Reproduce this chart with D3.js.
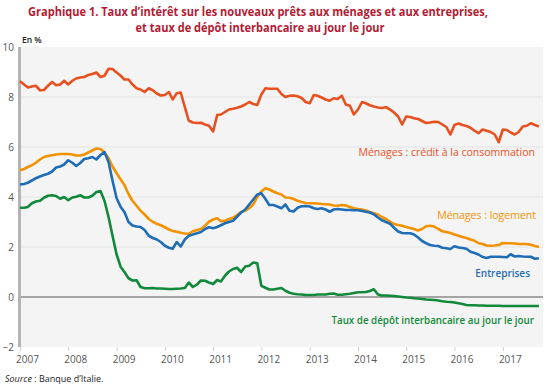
<!DOCTYPE html>
<html>
<head>
<meta charset="utf-8">
<script src="https://cdn.jsdelivr.net/npm/d3@7"></script>
<style>
  body { margin: 0; background: #fff; }
  text { font-family: "Open Sans", sans-serif; }
</style>
</head>
<body>
<svg id="chart" width="550" height="387"></svg>
<script>
// mois : janvier 2007 -> octobre 2017
var months = d3.timeMonth.range(new Date(2007, 0, 1), new Date(2017, 10, 1));

var consommation = [
  8.63, 8.50, 8.38, 8.42, 8.45, 8.27, 8.28, 8.45, 8.60, 8.47, 8.50, 8.65,
  8.50, 8.65, 8.74, 8.78, 8.80, 8.88, 8.92, 8.98, 8.80, 8.85, 9.13, 9.12,
  8.98, 8.85, 8.70, 8.70, 8.50, 8.35, 8.30, 8.20, 8.35, 8.27, 8.14, 8.06,
  8.08, 8.20, 7.90, 8.15, 8.18, 7.60, 7.05, 6.98, 6.96, 6.97, 6.90, 6.85,
  6.62, 7.28, 7.30, 7.40, 7.50, 7.53, 7.57, 7.62, 7.70, 7.80, 7.72, 7.68,
  8.10, 8.35, 8.33, 8.33, 8.33, 8.12, 8.00, 8.05, 8.06, 8.03, 7.96, 7.80,
  7.75, 8.08, 8.05, 7.98, 7.90, 7.85, 7.95, 7.92, 8.05, 7.70, 7.65, 7.30,
  7.50, 7.80, 7.75, 7.67, 7.62, 7.58, 7.56, 7.59, 7.50, 7.38, 7.22, 6.90,
  7.22, 7.20, 7.15, 7.12, 7.04, 6.96, 6.98, 7.01, 7.00, 6.90, 6.80, 6.50,
  6.88, 6.94, 6.88, 6.84, 6.77, 6.65, 6.55, 6.70, 6.65, 6.60, 6.50, 6.19,
  6.70, 6.68, 6.58, 6.50, 6.60, 6.82, 6.85, 6.95, 6.88, 6.82
];

var logement = [
  5.07, 5.12, 5.20, 5.27, 5.37, 5.50, 5.60, 5.64, 5.67, 5.70, 5.72, 5.72,
  5.72, 5.70, 5.66, 5.66, 5.70, 5.78, 5.86, 5.94, 5.92, 5.78, 5.55, 5.22,
  4.95, 4.70, 4.48, 4.12, 3.85, 3.65, 3.45, 3.30, 3.12, 3.01, 2.93, 2.87,
  2.79, 2.70, 2.64, 2.61, 2.57, 2.54, 2.53, 2.63, 2.68, 2.72, 2.85, 3.01,
  3.10, 3.15, 3.03, 3.05, 3.12, 3.17, 3.28, 3.40, 3.45, 3.55, 3.70, 4.00,
  4.22, 4.35, 4.30, 4.22, 4.15, 4.10, 3.98, 3.97, 3.92, 3.85, 3.80, 3.76,
  3.75, 3.75, 3.74, 3.72, 3.71, 3.70, 3.66, 3.65, 3.68, 3.66, 3.60, 3.55,
  3.52, 3.50, 3.46, 3.40, 3.35, 3.30, 3.20, 3.12, 3.02, 2.92, 2.88, 2.85,
  2.80, 2.76, 2.72, 2.66, 2.72, 2.83, 2.85, 2.82, 2.72, 2.63, 2.60, 2.56,
  2.50, 2.45, 2.40, 2.36, 2.30, 2.25, 2.15, 2.12, 2.06, 2.05, 2.06, 2.08,
  2.16, 2.15, 2.15, 2.14, 2.12, 2.12, 2.12, 2.09, 2.04, 2.00
];

var entreprises = [
  4.50, 4.52, 4.57, 4.66, 4.75, 4.82, 4.88, 4.93, 5.02, 5.18, 5.22, 5.30,
  5.47, 5.37, 5.24, 5.36, 5.52, 5.55, 5.60, 5.50, 5.68, 5.80, 5.40, 4.65,
  3.95, 3.60, 3.40, 3.00, 2.86, 2.82, 2.80, 2.68, 2.45, 2.36, 2.30, 2.20,
  2.05, 1.97, 1.93, 2.20, 2.02, 2.30, 2.45, 2.50, 2.55, 2.60, 2.72, 2.79,
  2.75, 2.80, 2.87, 2.95, 3.00, 3.05, 3.21, 3.38, 3.50, 3.70, 3.90, 4.10,
  4.15, 3.92, 3.68, 3.68, 3.62, 3.55, 3.70, 3.45, 3.42, 3.57, 3.63, 3.64,
  3.62, 3.55, 3.52, 3.55, 3.50, 3.41, 3.50, 3.52, 3.50, 3.48, 3.48, 3.47,
  3.47, 3.44, 3.41, 3.38, 3.31, 3.18, 3.07, 3.00, 2.93, 2.77, 2.62, 2.56,
  2.55, 2.55, 2.50, 2.38, 2.24, 2.15, 2.08, 2.05, 2.04, 1.97, 1.95, 1.92,
  2.03, 1.98, 1.96, 1.93, 1.81, 1.76, 1.70, 1.60, 1.56, 1.61, 1.61, 1.61,
  1.60, 1.59, 1.71, 1.62, 1.64, 1.62, 1.61, 1.61, 1.53, 1.55
];

var interbancaire = [
  3.57, 3.57, 3.60, 3.75, 3.82, 3.85, 3.97, 4.05, 4.07, 4.04, 3.93, 4.00,
  3.87, 3.98, 4.01, 4.07, 3.98, 3.98, 4.05, 4.20, 4.24, 3.85, 3.20, 2.45,
  1.70, 1.20, 1.00, 0.75, 0.66, 0.67, 0.40, 0.35, 0.35, 0.36, 0.34, 0.34,
  0.33, 0.32, 0.32, 0.33, 0.34, 0.36, 0.58, 0.40, 0.50, 0.66, 0.65, 0.58,
  0.52, 0.68, 0.62, 0.85, 1.02, 1.12, 1.17, 1.00, 1.22, 1.25, 1.38, 1.35,
  0.45, 0.37, 0.30, 0.30, 0.33, 0.36, 0.25, 0.17, 0.13, 0.11, 0.10, 0.08,
  0.08, 0.08, 0.10, 0.10, 0.10, 0.13, 0.14, 0.09, 0.09, 0.11, 0.13, 0.16,
  0.19, 0.19, 0.20, 0.24, 0.31, 0.10, 0.06, 0.06, 0.05, 0.04, 0.02, 0.00,
  -0.02, -0.03, -0.05, -0.06, -0.08, -0.10, -0.11, -0.12, -0.14, -0.17, -0.19, -0.20,
  -0.22, -0.25, -0.28, -0.32, -0.33, -0.33, -0.34, -0.34, -0.35, -0.35, -0.35, -0.35,
  -0.36, -0.36, -0.36, -0.36, -0.36, -0.36, -0.36, -0.36, -0.36, -0.36
];

var yTicks = [-2, 0, 2, 4, 6, 8, 10];
var years = d3.range(2007, 2018);

var series = [
  {name: "Ménages : crédit à la consommation", values: consommation, color: "#e8501f", lx: 535, ly: 156, weight: "normal", size: 10.5},
  {name: "Ménages : logement", values: logement, color: "#f39200", lx: 536, ly: 219, weight: "normal", size: 10.5},
  {name: "Entreprises", values: entreprises, color: "#1f6db4", lx: 530, ly: 277, weight: 600, size: 10},
  {name: "Taux de dépôt interbancaire au jour le jour", values: interbancaire, color: "#12893a", lx: 534, ly: 324, weight: 600, size: 9.8}
];

var margin = {top: 47, right: 7, bottom: 40, left: 20},
    width = 550 - margin.left - margin.right,
    height = 387 - margin.top - margin.bottom;

var svg = d3.select("#chart");

// titre
var title = svg.append("g")
    .attr("fill", "#b31b34")
    .attr("font-weight", "bold")
    .attr("font-size", 12.5)
    .attr("text-anchor", "middle");
title.append("text").attr("x", 258).attr("y", 16)
    .attr("textLength", 460).attr("lengthAdjust", "spacingAndGlyphs")
    .text("Graphique 1. Taux d’intérêt sur les nouveaux prêts aux ménages et aux entreprises,");
title.append("text").attr("x", 260).attr("y", 32)
    .attr("textLength", 249).attr("lengthAdjust", "spacingAndGlyphs")
    .text("et taux de dépôt interbancaire au jour le jour");

var g = svg.append("g")
    .attr("transform", "translate(" + margin.left + "," + margin.top + ")");

var x = d3.scaleTime()
    .domain([new Date(2007, 0, 1), new Date(2017, 10, 1)])
    .range([0, width]);

var y = d3.scaleLinear()
    .domain([-2, 10])
    .range([height, 0]);

g.append("rect")
    .attr("width", width)
    .attr("height", height)
    .attr("fill", "#f4f4f4");

// grille
g.append("g")
  .selectAll("line")
  .data(yTicks.filter(function(d) { return d != 0 && d != 10 && d != -2; }))
  .enter().append("line")
    .attr("x1", 0)
    .attr("x2", width)
    .attr("y1", function(d) { return y(d); })
    .attr("y2", function(d) { return y(d); })
    .attr("stroke", "#e4e4e4")
    .attr("stroke-width", 1);

g.append("line")
    .attr("x1", 0)
    .attr("x2", width)
    .attr("y1", y(0))
    .attr("y2", y(0))
    .attr("stroke", "#555")
    .attr("stroke-width", 1);

// axe y
var yAxis = g.append("g")
    .call(d3.axisLeft(y).tickValues(yTicks).tickSize(0).tickPadding(6));
yAxis.select(".domain").remove();
yAxis.selectAll("text")
    .attr("fill", "#555")
    .attr("font-size", 10)
    .attr("font-family", "Open Sans, sans-serif");

g.append("line")
    .attr("x1", -0.5)
    .attr("x2", -0.5)
    .attr("y1", 0)
    .attr("y2", height)
    .attr("stroke", "#b3b3b3")
    .attr("stroke-width", 3);

// axe x
var xAxis = g.append("g")
    .attr("transform", "translate(0," + height + ")")
    .call(d3.axisBottom(x)
      .tickValues(years.map(function(d) { return new Date(d, 0, 1); }))
      .tickFormat(d3.timeFormat("%Y"))
      .tickSize(4)
      .tickPadding(5));
xAxis.select(".domain").remove();
xAxis.selectAll("line").attr("stroke", "#cfcfcf");
xAxis.selectAll("text")
    .attr("dx", 7)
    .attr("fill", "#555")
    .attr("font-size", 10)
    .attr("font-family", "Open Sans, sans-serif");

svg.append("text")
    .attr("x", 22)
    .attr("y", 43)
    .attr("font-size", 8.5)
    .attr("font-weight", 600)
    .attr("fill", "#222")
    .text("En %");

// courbes
var line = d3.line()
    .x(function(d, i) { return x(months[i]); })
    .y(function(d) { return y(d); });

g.selectAll(".serie")
  .data(series)
  .enter().append("path")
    .attr("class", "serie")
    .attr("d", function(d) { return line(d.values); })
    .attr("fill", "none")
    .attr("stroke", function(d) { return d.color; })
    .attr("stroke-width", 2.6)
    .attr("stroke-linejoin", "round");

svg.selectAll(".label")
  .data(series)
  .enter().append("text")
    .attr("class", "label")
    .attr("x", function(d) { return d.lx; })
    .attr("y", function(d) { return d.ly; })
    .attr("text-anchor", "end")
    .attr("font-size", function(d) { return d.size; })
    .attr("font-weight", function(d) { return d.weight; })
    .attr("fill", function(d) { return d.color; })
    .text(function(d) { return d.name; });

// source
var src = svg.append("text")
    .attr("x", 5)
    .attr("y", 382)
    .attr("font-size", 9)
    .attr("fill", "#222");
src.append("tspan").attr("font-style", "italic").text("Source");
src.append("tspan").text(" : Banque d’Italie.");
</script>
</body>
</html>
